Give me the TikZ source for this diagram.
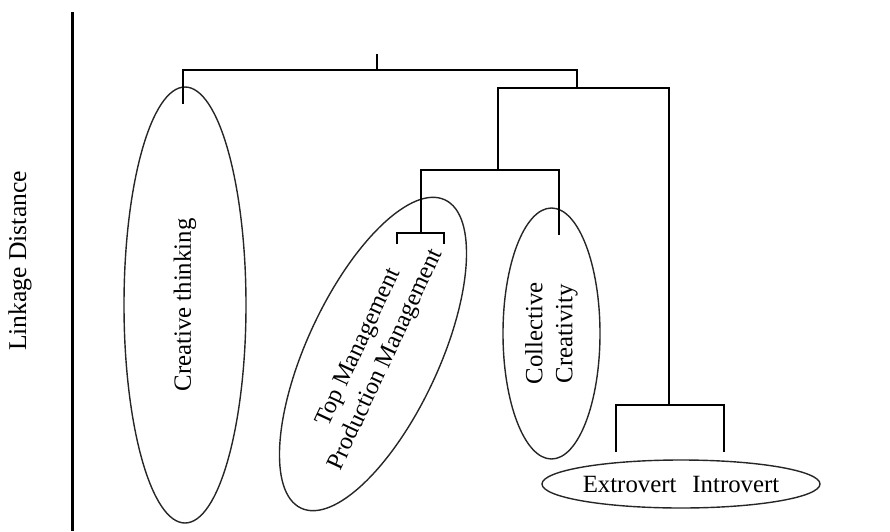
\documentclass[tikz,border=0pt]{standalone}
\usepackage{fontspec}
\setmainfont{Liberation Serif}
\usetikzlibrary{shapes.geometric}
\begin{document}
\begin{tikzpicture}[x=0.5pt,y=-0.5pt,
  link/.style={draw=black, line width=0.75pt},
  cluster/.style={ellipse, draw=black!85, line width=0.7pt, inner sep=0pt,
    align=center, font=\fontsize{12.4}{15}\selectfont},
  axisline/.style={draw=black, line width=1.5pt}]
\useasboundingbox (0,0) rectangle (890,531);

% vertical axis and its label
\coordinate (axtop) at (72.5,12);
\coordinate (axbot) at (72.5,531);
\draw[axisline] (axtop) -- (axbot);
\node[rotate=90, font=\fontsize{12.8}{15}\selectfont] (ylab) at (20,261) {Linkage Distance};

% clusters
\node[cluster, rotate=90, minimum width=218pt, minimum height=61pt] (ct) at (185,305) {Creative thinking};
\node[cluster, rotate=65, minimum width=169pt, minimum height=66pt, font=\fontsize{12.2}{15}\selectfont] (mg) at (373,354) {Top Management\\Production Management};
\node[cluster, rotate=90, minimum width=125.5pt, minimum height=48.5pt] (cc) at (551.5,333.5) {Collective\\Creativity};
\node[cluster, minimum width=139pt, minimum height=24pt] (ei) at (681,484) {Extrovert\hspace{8pt}Introvert};

% tree joints
\coordinate (root) at (377,54);
\coordinate (j1) at (377,70);
\coordinate (j1l) at (183,70);
\coordinate (j1r) at (577,70);
\coordinate (ctleaf) at (183,104);
\coordinate (j2) at (577,88);
\coordinate (j2l) at (498,88);
\coordinate (j2r) at (669,88);
\coordinate (j3) at (498,170);
\coordinate (j3l) at (421,170);
\coordinate (j3r) at (559,170);
\coordinate (mgtop) at (421,233);
\coordinate (mgl) at (397,244);
\coordinate (mgr) at (444,244);
\coordinate (ccleaf) at (559,235);
\coordinate (j4) at (669,405);
\coordinate (eleaf) at (616,452);
\coordinate (ileaf) at (724,452);

% dendrogram links
\draw[link] (root) -- (j1);
\draw[link] (ctleaf) |- (j1r) -- (j2);
\draw[link] (j3) -- (j2l) -- (j2r) -- (j4);
\draw[link] (mgtop) |- (j3r) -- (ccleaf);
\draw[link] (mgl) |- (mgtop) -| (mgr);
\draw[link] (eleaf) |- (j4) -| (ileaf);
\end{tikzpicture}
\end{document}
